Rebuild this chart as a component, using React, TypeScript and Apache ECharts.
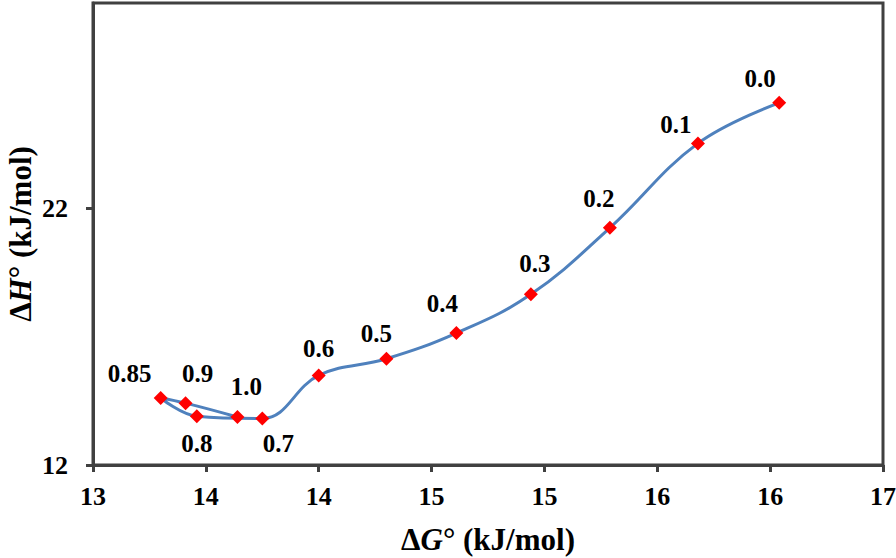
import React, { useEffect, useRef } from "react";
import * as echarts from "echarts";

const moleFractions = ["0.0", "0.1", "0.2", "0.3", "0.4", "0.5", "0.6", "0.7", "0.8", "0.85", "0.9", "1.0"];
const deltaG = [16.24, 15.88, 15.49, 15.14, 14.81, 14.5, 14.2, 13.95, 13.66, 13.5, 13.61, 13.84];
const deltaH = [26.11, 24.53, 21.24, 18.65, 17.14, 16.14, 15.49, 13.81, 13.9, 14.61, 14.41, 13.87];

const xTicks = [13.2, 13.7, 14.2, 14.7, 15.2, 15.7, 16.2, 16.7];
const yTicks = [12, 22];

// label offsets (style only)
const labelOffsets: [number, number][] = [
  [-19, -24], [-22, -19], [-11, -29], [4, -31], [-14, -30], [-10, -25],
  [0, -27], [16, 25], [0, 27], [-31, -25], [12, -30], [9, -31],
];

const FONT = "'Liberation Serif', 'Times New Roman', serif";
const AXIS_COLOR = "#404040";

export default function App() {
  const ref = useRef<HTMLDivElement>(null);
  useEffect(() => {
    if (!ref.current) return;
    const chart = echarts.init(ref.current, undefined, { renderer: "svg" });
    const data = deltaG.map((g, i) => ({
      value: [g, deltaH[i]],
      label: {
        show: true,
        formatter: moleFractions[i],
        position: "inside",
        offset: labelOffsets[i],
      },
    }));
    const titleRich = {
      a: { fontFamily: FONT, fontWeight: "bold", fontSize: 31, lineHeight: 31, color: "#000" },
      i: { fontFamily: FONT, fontWeight: "bold", fontStyle: "italic", fontSize: 31, lineHeight: 31, color: "#000" },
    };
    chart.setOption({
      animation: false,
      backgroundColor: "#fff",
      grid: {
        left: 93,
        right: 13,
        top: 3,
        bottom: 93,
        containLabel: false,
        outerBoundsMode: "none",
        show: true,
        borderColor: AXIS_COLOR,
        borderWidth: 3,
        backgroundColor: "transparent",
      },
      xAxis: {
        type: "value",
        min: 13.2,
        max: 16.7,
        name: "{a|Δ}{i|G}{a|° (kJ/mol)}",
        nameLocation: "middle",
        nameGap: 59,
        nameTextStyle: { rich: titleRich },
        axisLine: { show: true, lineStyle: { color: AXIS_COLOR, width: 3 } },
        axisTick: { show: true, length: 7, customValues: xTicks, lineStyle: { color: AXIS_COLOR, width: 3 } },
        axisLabel: {
          customValues: xTicks,
          formatter: (v: number) => String(Math.round(v)),
          margin: 18,
          fontFamily: FONT,
          fontWeight: "bold",
          fontSize: 26,
          color: "#000",
        },
        splitLine: { show: false },
      },
      yAxis: {
        type: "value",
        min: 12,
        max: 30,
        name: "{a|Δ}{i|H}{a|° (kJ/mol)}",
        nameLocation: "middle",
        nameGap: 57,
        nameMoveOverlap: false,
        nameRotate: 90,
        nameTextStyle: { rich: titleRich },
        axisLine: { show: true, lineStyle: { color: AXIS_COLOR, width: 3 } },
        axisTick: { show: true, length: 7, customValues: yTicks, lineStyle: { color: AXIS_COLOR, width: 3 } },
        axisLabel: {
          customValues: yTicks,
          margin: 25,
          fontFamily: FONT,
          fontWeight: "bold",
          fontSize: 26,
          color: "#000",
        },
        splitLine: { show: false },
      },
      series: [
        {
          type: "line",
          data,
          smooth: 0.4,
          symbol: "diamond",
          symbolSize: 14,
          lineStyle: { color: "#4F81BD", width: 3 },
          itemStyle: { color: "#FF0000" },
          label: {
            fontFamily: FONT,
            fontWeight: "bold",
            fontSize: 25,
            color: "#000",
          },
          z: 3,
        },
      ],
    });
    return () => chart.dispose();
  }, []);
  return (
    <div
      ref={ref}
      style={{ position: "fixed", left: 0, top: 0, width: 896, height: 558 }}
    />
  );
}
